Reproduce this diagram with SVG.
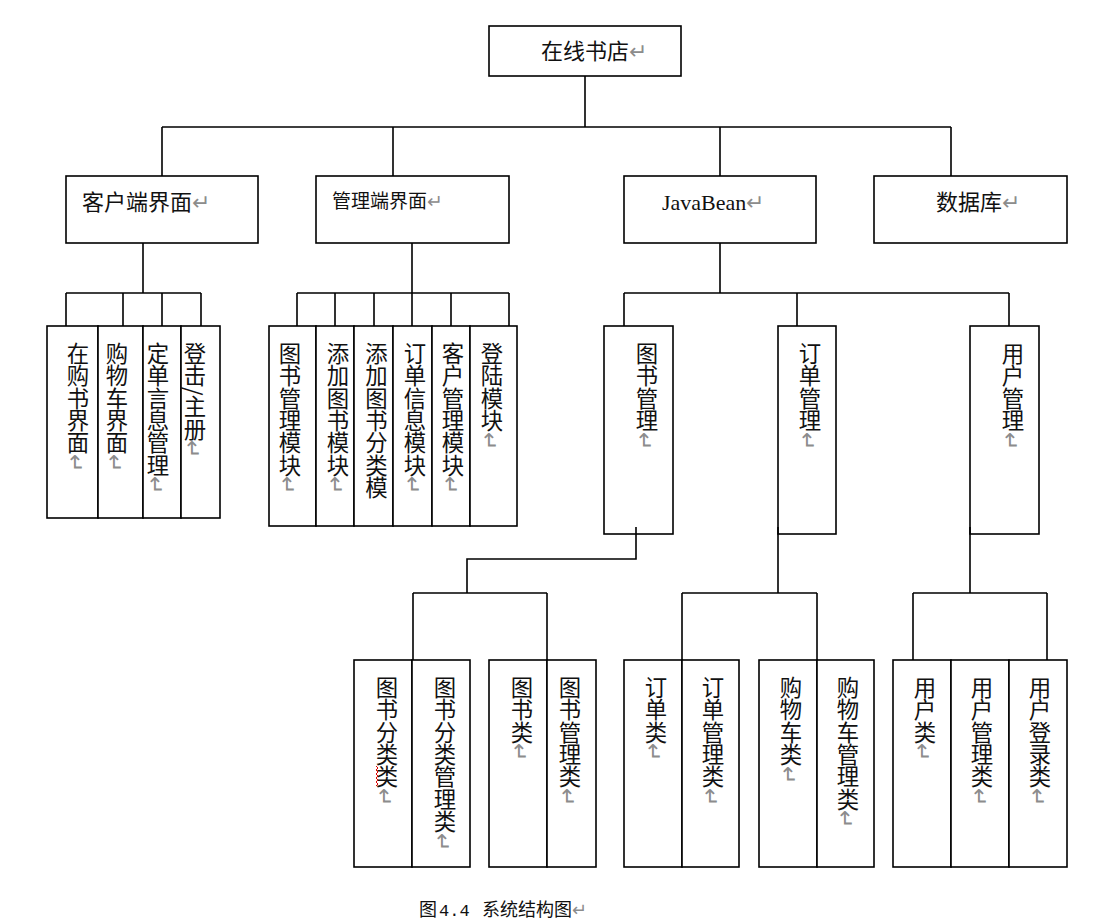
<svg xmlns="http://www.w3.org/2000/svg" width="1106" height="923" viewBox="0 0 1106 923">
<style>
.box{fill:#fff;stroke:#000;stroke-width:1.6}
.ln{fill:none;stroke:#000;stroke-width:1.6}
.t{font-family:"Noto Sans CJK SC","Liberation Sans",sans-serif;font-size:22px;fill:#111}
.v{font-family:"Noto Sans CJK SC","Liberation Sans",sans-serif;font-size:22.4px;fill:#111;writing-mode:vertical-rl}
.pm{fill:#8c8c8c}
</style>
<rect width="1106" height="923" fill="#fff"/>
<g id="nodes">
<g id="root"><rect class="box" x="489" y="26" width="192" height="50"/><text class="t" x="541" y="59">在线书店<tspan class="pm">↵</tspan></text></g>
<g id="client"><rect class="box" x="66" y="176" width="192" height="67"/><text class="t" x="82" y="210">客户端界面<tspan class="pm">↵</tspan></text></g>
<g id="admin"><rect class="box" x="316" y="176" width="193" height="67"/><text class="t" x="332" y="208" style="font-size:19px">管理端界面<tspan class="pm">↵</tspan></text></g>
<g id="javabean"><rect class="box" x="624" y="176" width="192" height="67"/><text class="t" x="662" y="210" style="font-family:'Liberation Serif',serif">JavaBean<tspan class="pm">↵</tspan></text></g>
<g id="database"><rect class="box" x="874" y="176" width="193" height="67"/><text class="t" x="936" y="210">数据库<tspan class="pm">↵</tspan></text></g>

<g id="c1"><rect class="box" x="47" y="326" width="51" height="192"/><text class="v" x="78" y="342">在购书界面<tspan class="pm">↵</tspan></text></g>
<g id="c2"><rect class="box" x="98" y="326" width="45" height="192"/><text class="v" x="117" y="342">购物车界面<tspan class="pm">↵</tspan></text></g>
<g id="c3"><rect class="box" x="143" y="326" width="38" height="192"/><text class="v" x="158" y="342">定单言息管理<tspan class="pm">↵</tspan></text></g>
<g id="c4"><rect class="box" x="181" y="326" width="39" height="192"/><text class="v" x="195" y="342">登击/主册<tspan class="pm">↵</tspan></text></g>

<g id="a1"><rect class="box" x="269" y="326" width="47" height="200"/><text class="v" x="290" y="342">图书管理模块<tspan class="pm">↵</tspan></text></g>
<g id="a2"><rect class="box" x="316" y="326" width="38" height="200"/><text class="v" x="338" y="342">添加图书模块<tspan class="pm">↵</tspan></text></g>
<g id="a3"><rect class="box" x="354" y="326" width="39" height="200"/><text class="v" x="376.5" y="342">添加图书分类模</text></g>
<g id="a4"><rect class="box" x="393" y="326" width="39" height="200"/><text class="v" x="415" y="342">订单信息模块<tspan class="pm">↵</tspan></text></g>
<g id="a5"><rect class="box" x="432" y="326" width="38" height="200"/><text class="v" x="453" y="342">客户管理模块<tspan class="pm">↵</tspan></text></g>
<g id="a6"><rect class="box" x="470" y="326" width="47" height="200"/><text class="v" x="492" y="342">登陆模块<tspan class="pm">↵</tspan></text></g>

<g id="b1"><rect class="box" x="604" y="326" width="69" height="208"/><text class="v" x="647" y="342">图书管理<tspan class="pm">↵</tspan></text></g>
<g id="b2"><rect class="box" x="778" y="326" width="58" height="208"/><text class="v" x="810" y="342">订单管理<tspan class="pm">↵</tspan></text></g>
<g id="b3"><rect class="box" x="970" y="326" width="69" height="208"/><text class="v" x="1013" y="342">用户管理<tspan class="pm">↵</tspan></text></g>

<g id="d1"><rect class="box" x="354" y="660" width="58" height="207"/><text class="v" x="387" y="676">图书分类类<tspan class="pm">↵</tspan></text><path d="M376 766 l2 2 l-2 2 l2 2 l-2 2 l2 2 l-2 2 l2 2 l-2 2 l2 2 l-2 2" fill="none" stroke="#e00000" stroke-width="1"/></g>
<g id="d2"><rect class="box" x="412" y="660" width="58" height="207"/><text class="v" x="445" y="676">图书分类管理类<tspan class="pm">↵</tspan></text></g>
<g id="d3"><rect class="box" x="489" y="660" width="58" height="207"/><text class="v" x="522" y="676">图书类<tspan class="pm">↵</tspan></text></g>
<g id="d4"><rect class="box" x="547" y="660" width="49" height="207"/><text class="v" x="570" y="676">图书管理类<tspan class="pm">↵</tspan></text></g>
<g id="d5"><rect class="box" x="624" y="660" width="58" height="207"/><text class="v" x="656" y="676">订单类<tspan class="pm">↵</tspan></text></g>
<g id="d6"><rect class="box" x="682" y="660" width="57" height="207"/><text class="v" x="713" y="676">订单管理类<tspan class="pm">↵</tspan></text></g>
<g id="d7"><rect class="box" x="759" y="660" width="58" height="207"/><text class="v" x="791" y="676">购物车类<tspan class="pm">↵</tspan></text></g>
<g id="d8"><rect class="box" x="817" y="660" width="57" height="207"/><text class="v" x="848" y="676">购物车管理类<tspan class="pm">↵</tspan></text></g>
<g id="d9"><rect class="box" x="893" y="660" width="58" height="207"/><text class="v" x="925" y="676">用户类<tspan class="pm">↵</tspan></text></g>
<g id="d10"><rect class="box" x="951" y="660" width="58" height="207"/><text class="v" x="982" y="676">用户管理类<tspan class="pm">↵</tspan></text></g>
<g id="d11"><rect class="box" x="1009" y="660" width="58" height="207"/><text class="v" x="1040" y="676">用户登录类<tspan class="pm">↵</tspan></text></g>
</g>
<g id="connectors">
<path class="ln" d="M585 76V127M162 127H951M162 127V176M393 127V176M720 127V176M951 127V176"/>
<path class="ln" d="M143 243V293M66 293H201M66 293V326M123 293V326M162 293V326M201 293V326"/>
<path class="ln" d="M412 243V326M297 293H509M297 293V326M335 293V326M374 293V326M451 293V326M509 293V326"/>
<path class="ln" d="M720 243V293M624 293H1009M624 293V326M797 293V326M1009 293V326"/>
<path class="ln" d="M636 527V559H467V593M413 593H547M413 593V660M547 593V660"/>
<path class="ln" d="M778 527V593M682 593H817M682 593V660M817 593V660"/>
<path class="ln" d="M970 527V593M913 593H1047M913 593V660M1047 593V660"/>
</g>
<text id="caption" class="t" x="419" y="916" style="font-size:18px">图<tspan x="439" style="font-family:'Liberation Mono',monospace;font-size:17px">4.4</tspan><tspan x="482">系统结构图</tspan><tspan class="pm">↵</tspan></text>
</svg>
